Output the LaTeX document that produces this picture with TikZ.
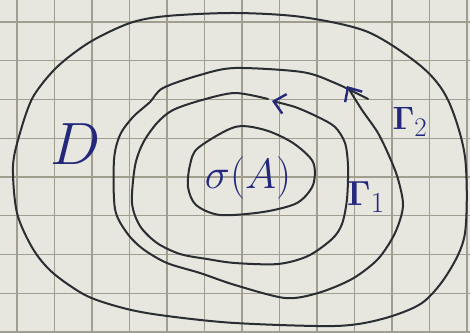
\documentclass[tikz,border=0pt]{standalone}
\usepackage{amsmath,amssymb}
\usepackage{xcolor}
\usepackage{tikz}
\usetikzlibrary{arrows.meta}
\definecolor{paper}{RGB}{231,231,223}
\definecolor{gridline}{RGB}{160,158,142}
\definecolor{ink}{RGB}{42,45,50}
\definecolor{inkblue}{RGB}{35,40,125}

\begin{document}
\begin{tikzpicture}[
  x=1pt, y=-1pt,
  gridln/.style={gridline, line width=1.1pt},
  curve/.style={ink, line width=2pt, line cap=round, line join=round},
  lab/.style={text=inkblue, inner sep=0pt, font=\Huge},
  tip/.style={-{Straight Barb[length=11pt, width=20pt, line width=2.4pt, color=inkblue]}}
]
\path[use as bounding box, fill=paper] (0,0) rectangle (470,332);
\foreach \i in {0,...,12} \draw[gridln] (17+37.5*\i,0) -- (17+37.5*\i,332);
\foreach \j in {0,...,8} \draw[gridln] (0,22+38.75*\j) -- (470,22+38.75*\j);

\draw[curve] plot[smooth cycle] coordinates {(235,13) (302,17) (368,32) (422,67) (448,100) (465,157) (465,233) (448,273) (422,303) (382,319) (335,326) (235,323) (167,316) (127,309) (87,296) (53,273) (33,249) (17,213) (13,166) (20,133) (33,97) (57,67) (90,42) (130,23) (167,16)};
\draw[curve, tip] plot[smooth] coordinates {(368,99) (335,83) (302,72) (235,68) (200,75) (163,88) (150,102) (133,117) (120,135) (114,160) (115,209) (127,233) (143,249) (167,263) (200,273) (235,285) (285,298) (318,293) (352,279) (378,259) (395,233) (403,206) (398,179) (390,158) (378,133) (362,110) (347,86)};
\draw[curve, tip] plot[smooth] coordinates {(268,99) (235,93) (202,100) (173,110) (157,123) (143,143) (135,166) (132,203) (140,226) (157,243) (180,254) (207,259) (235,263) (278,264) (308,256) (332,239) (342,224) (347,199) (348,166) (345,143) (335,127) (318,117) (295,107) (272,101)};
\draw[curve] plot[smooth cycle] coordinates {(235,127) (265,130) (293,143) (313,162) (313,185) (297,203) (263,212) (220,215) (196,205) (188,187) (190,165) (198,148)};

\node[lab, scale=2.4] (dlab) at (76,144) {$D$};
\node[lab, scale=1.7] (spec) at (248,178) {$\sigma(A)$};
\node[lab, scale=1.4] (gone) at (366,197) {$\boldsymbol{\Gamma}_1$};
\node[lab, scale=1.3] (gtwo) at (410,122) {$\boldsymbol{\Gamma}_2$};
\end{tikzpicture}
\end{document}
